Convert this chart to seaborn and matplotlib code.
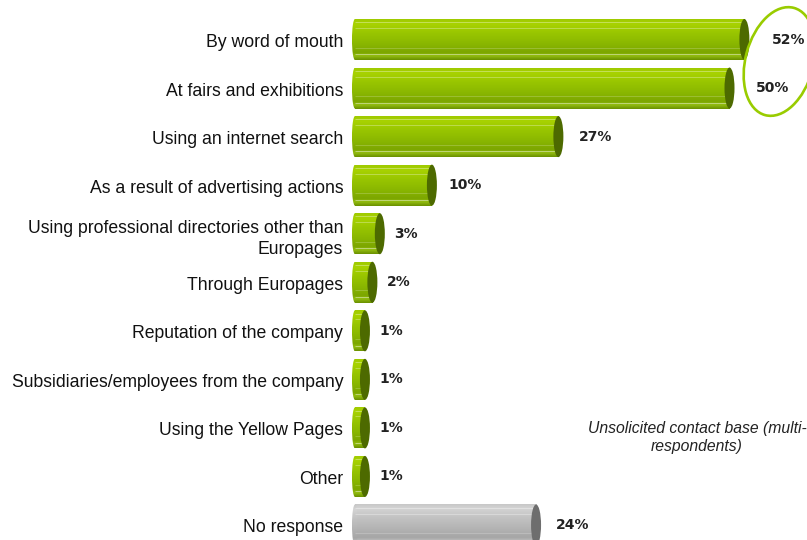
import numpy as np
import pandas as pd
import seaborn as sns
import matplotlib
matplotlib.use("Agg")
import matplotlib.pyplot as plt
from matplotlib.patches import Ellipse
from matplotlib.colors import LinearSegmentedColormap
from matplotlib.transforms import IdentityTransform, ScaledTranslation

categories = [
    "By word of mouth",
    "At fairs and exhibitions",
    "Using an internet search",
    "As a result of advertising actions",
    "Using professional directories other than\nEuropages",
    "Through Europages",
    "Reputation of the company",
    "Subsidiaries/employees from the company",
    "Using the Yellow Pages",
    "Other",
    "No response",
]
values = [52, 50, 27, 10, 3, 2, 1, 1, 1, 1, 24]
value_labels = ["52%", "50%", "27%", "10%", "3%", "2%", "1%", "1%", "1%", "1%", "24%"]
note_text = "Unsolicited contact base (multi-\nrespondents)"

GREEN = "#8cba00"
GREY = "#b4b4b4"
palette = {c: (GREY if c == "No response" else GREEN) for c in categories}

df = pd.DataFrame({"category": categories, "value": values})

sns.set_theme(style="white")
plt.rcParams["font.family"] = ["Liberation Sans", "DejaVu Sans"]

W, H = 807, 540
fig = plt.figure(figsize=(W / 100, H / 100), dpi=100)
fig.patch.set_facecolor("white")

# horizontal scale: zero at 357.5 px, 7.44 px per percentage point
px_per_unit = 7.44
zero_px = 357.5
left_px = 346
xmin = -(zero_px - left_px) / px_per_unit
xmax = xmin + (W - left_px) / px_per_unit
ax = fig.add_axes([left_px / W, 0, 1 - left_px / W, 1])

step = 48.55
first_px = 39.5
bar_h = 41 / step
sns.barplot(data=df, y="category", x="value", hue="category", palette=palette,
            orient="h", width=bar_h, legend=False, ax=ax, saturation=1,
            edgecolor="none")

ax.set_xlim(xmin, xmax)
ax.set_ylim((H - first_px) / step, -first_px / step)

# shading for the cylinder bodies
green_cmap = LinearSegmentedColormap.from_list(
    "g", [(0, "#9fca00"), (0.12, "#a8d200"), (0.35, "#98c500"),
          (0.6, "#8ab700"), (0.82, "#7ca600"), (0.9, "#93bd10"), (1, "#6a9000")])
grey_cmap = LinearSegmentedColormap.from_list(
    "k", [(0, "#c4c4c4"), (0.12, "#d4d4d4"), (0.35, "#c2c2c2"),
          (0.6, "#b4b4b4"), (0.82, "#a6a6a6"), (0.9, "#bcbcbc"), (1, "#929292")])
grad = np.linspace(0, 1, 128).reshape(-1, 1)

cap_w = 10 / px_per_unit
lead = 0.34             # rounded start sits just left of zero
lead_w = 6 / px_per_unit
for i, (patch, cat, val) in enumerate(zip(ax.patches, categories, values)):
    patch.set_x(-lead)
    patch.set_width(val + lead)
    x0, y0 = patch.get_x(), patch.get_y()
    w, h = patch.get_width(), patch.get_height()
    is_grey = cat == "No response"
    cmap = grey_cmap if is_grey else green_cmap
    cap = "#6e6e6e" if is_grey else "#4d6a00"
    im = ax.imshow(grad, cmap=cmap, aspect="auto", interpolation="bilinear",
                   extent=(x0, x0 + w, y0 + h, y0), zorder=2)
    im.set_clip_path(patch)
    left_end = Ellipse((x0, y0 + h / 2), lead_w, h, facecolor="none",
                       edgecolor="none")
    ax.add_patch(left_end)
    im2 = ax.imshow(grad, cmap=cmap, aspect="auto", interpolation="bilinear",
                    extent=(x0 - lead_w / 2, x0 + lead_w / 2, y0 + h, y0),
                    zorder=2)
    im2.set_clip_path(left_end)
    # faint light stripes along the body
    for frac, a in [(0.08, 0.35), (0.22, 0.3), (0.7, 0.2), (0.86, 0.45)]:
        ax.plot([x0, x0 + w], [y0 + frac * h] * 2, color="white", alpha=a,
                lw=0.7, zorder=2.2, solid_capstyle="butt")
    # dark end cap
    ax.add_patch(Ellipse((val, y0 + h / 2), cap_w, h, facecolor=cap,
                         edgecolor="none", zorder=3))
    gap_px = 14 + 0.25 * val
    ax.text(val + gap_px / px_per_unit, y0 + h / 2, value_labels[i],
            va="center", ha="left", fontsize=10, fontweight="bold",
            color="#222222", family=["DejaVu Sans"], zorder=4)

# highlight ring around the two leading answers
fig.add_artist(Ellipse((779.5, H - 61.5), 68, 111, angle=-15,
                       transform=IdentityTransform(), facecolor="none",
                       edgecolor="#99cc00", lw=1.9, zorder=5))

ax.set_xlabel("")
ax.set_ylabel("")
ax.set_xticks([])
ax.tick_params(axis="y", length=0, pad=2, labelsize=12.7, labelcolor="#111111")
shift = ScaledTranslation(0, -1 / 100, fig.dpi_scale_trans)
for lbl in ax.get_yticklabels():
    lbl.set_transform(lbl.get_transform() + shift)
    lbl.set_linespacing(1.3)
for s in ax.spines.values():
    s.set_visible(False)
ax.set_facecolor("none")

fig.text(697 / W, 1 - 437.5 / H, note_text, ha="center", va="center",
         fontsize=11.3, style="italic", color="#222222", linespacing=1.3,
         family=["Liberation Sans", "DejaVu Sans"])

fig.savefig("out.png", dpi=100)
